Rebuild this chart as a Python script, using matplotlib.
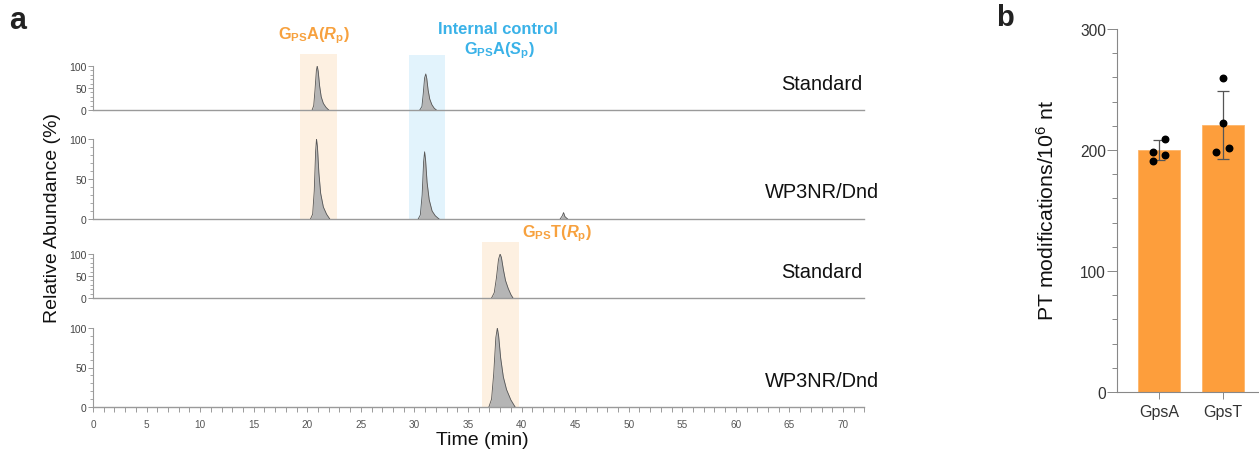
import matplotlib.pyplot as plt
from matplotlib.ticker import MultipleLocator

plt.rcParams['font.family'] = ['Liberation Sans', 'DejaVu Sans']
plt.rcParams['mathtext.fontset'] = 'custom'
plt.rcParams['mathtext.rm'] = 'Liberation Sans:bold'
plt.rcParams['mathtext.it'] = 'Liberation Sans:bold:italic'
plt.rcParams['mathtext.bf'] = 'Liberation Sans:bold'

# ---- panel a: chromatogram peaks (time in min, relative abundance in %) ----
# Standard, GpsA(Rp) + internal control GpsA(Sp)
std_a_rp_time = [20.45, 20.6, 20.72, 20.85, 20.93, 21.02, 21.15, 21.3, 21.5, 21.75, 22.0]
std_a_rp_int = [0, 10, 45, 90, 100, 88, 55, 30, 15, 6, 0]
std_a_sp_time = [30.5, 30.7, 30.82, 30.95, 31.06, 31.15, 31.28, 31.43, 31.63, 31.85, 32.05]
std_a_sp_int = [0, 8, 36, 73, 82, 72, 45, 25, 12, 4, 0]

# WP3NR/Dnd, GpsA(Rp) + internal control + small peak
wp_a_rp_time = [20.3, 20.5, 20.65, 20.78, 20.86, 20.95, 21.08, 21.25, 21.5, 21.8, 22.1]
wp_a_rp_int = [0, 6, 35, 85, 100, 90, 58, 32, 15, 6, 0]
wp_a_sp_time = [30.35, 30.55, 30.72, 30.86, 30.95, 31.04, 31.18, 31.38, 31.65, 31.95, 32.3]
wp_a_sp_int = [0, 5, 30, 72, 84, 74, 46, 24, 10, 4, 0]
wp_a_x_time = [43.6, 43.8, 43.92, 44.05, 44.3]
wp_a_x_int = [0, 4, 8, 3, 0]

# Standard, GpsT(Rp)
std_t_time = [37.2, 37.45, 37.65, 37.85, 38.0, 38.12, 38.3, 38.5, 38.75, 39.0, 39.2]
std_t_int = [0, 12, 45, 88, 100, 92, 65, 40, 22, 8, 0]

# WP3NR/Dnd, GpsT(Rp)
wp_t_time = [36.95, 37.2, 37.4, 37.6, 37.74, 37.86, 38.05, 38.3, 38.6, 39.0, 39.4]
wp_t_int = [0, 10, 42, 88, 100, 90, 62, 38, 22, 9, 0]

sample_names = ['Standard', 'WP3NR/Dnd', 'Standard', 'WP3NR/Dnd']
traces = [
    [(std_a_rp_time, std_a_rp_int), (std_a_sp_time, std_a_sp_int)],
    [(wp_a_rp_time, wp_a_rp_int), (wp_a_sp_time, wp_a_sp_int), (wp_a_x_time, wp_a_x_int)],
    [(std_t_time, std_t_int)],
    [(wp_t_time, wp_t_int)],
]

# ---- panel b: PT modifications per 10^6 nt ----
categories = ['GpsA', 'GpsT']
means = [200, 220.5]
sds = [8.5, 28]
reps_gpsa = [198, 209, 190.5, 195.5]
reps_gpst = [259.5, 222, 198.5, 202]

W, H = 1259, 460
fig = plt.figure(figsize=(W / 100, H / 100), dpi=100)


def fx(px):
    return px / W


def fy(py):
    return 1 - py / H


orange = '#f7a13e'
blue = '#3ab2e8'
line_gray = '#9a9a9a'
tick_col = '#444444'
txt = '#111111'

ax_l, ax_r = 93, 864.4
xmax = 72

# background axes for the highlight boxes
bg = fig.add_axes([fx(ax_l), 0, fx(ax_r - ax_l), 1])
bg.set_xlim(0, xmax)
bg.set_ylim(0, 1)
bg.axis('off')
bg.axvspan(19.3, 22.8, ymin=fy(220), ymax=fy(55), color='#fdf0e1', lw=0)
bg.axvspan(29.5, 32.9, ymin=fy(220), ymax=fy(56), color='#e2f3fc', lw=0)
bg.axvspan(36.3, 39.8, ymin=fy(408), ymax=fy(243), color='#fdf0e1', lw=0)

# panel geometry: (baseline px, top px)
rows = [(111, 67), (220, 140), (299, 255), (408, 329)]
label_y = [84, 193, 272, 382]

for i, (peaks, name, (b, tp)) in enumerate(zip(traces, sample_names, rows)):
    ax = fig.add_axes([fx(ax_l), fy(b), fx(ax_r - ax_l), (b - tp) / H])
    ax.patch.set_visible(False)
    for t, y in peaks:
        ax.fill_between(t, y, 0, color='#b5b5b5', lw=0, zorder=2)
        ax.plot(t, y, color='#555555', lw=0.6, zorder=3)
    ax.set_xlim(0, xmax)
    ax.set_ylim(0, 100)
    ax.spines['top'].set_visible(False)
    ax.spines['right'].set_visible(False)
    ax.spines['left'].set_color(line_gray)
    ax.spines['bottom'].set_color(line_gray)
    ax.spines['bottom'].set_linewidth(1.0)
    ax.spines['left'].set_linewidth(0.8)
    ax.set_yticks([0, 50, 100])
    ax.yaxis.set_minor_locator(MultipleLocator(10))
    ax.tick_params(axis='y', which='major', length=3.5, width=0.7, color=line_gray,
                   labelsize=7.5, labelcolor=tick_col, pad=1)
    ax.tick_params(axis='y', which='minor', length=2.2, width=0.6, color=line_gray)
    if i < 3:
        ax.tick_params(axis='x', which='both', bottom=False, labelbottom=False)
    else:
        ax.set_xticks(range(0, 71, 5))
        ax.xaxis.set_minor_locator(MultipleLocator(1))
        ax.tick_params(axis='x', which='both', length=3.5, width=0.7, color=line_gray,
                       labelsize=7.2, labelcolor='#555555', pad=5)
    fig.text(fx(ax_l + 68 / xmax * (ax_r - ax_l)), fy(label_y[i]), name,
             ha='center', va='center', fontsize=14.4, color=txt)

fig.text(fx(482), fy(441), 'Time (min)', ha='center', va='center', fontsize=14, color=txt)
fig.text(fx(52.5), fy(218), 'Relative Abundance (%)', rotation=90, ha='center', va='center',
         fontsize=14, color=txt)

fig.text(fx(314), fy(36), r'G$_{\mathrm{PS}}$A($R_{\mathrm{p}}$)', ha='center', va='center',
         fontsize=11.8, fontweight='bold', color=orange)
fig.text(fx(498), fy(30), 'Internal control', ha='center', va='center',
         fontsize=11.9, fontweight='bold', color=blue)
fig.text(fx(499), fy(51), r'G$_{\mathrm{PS}}$A($S_{\mathrm{p}}$)', ha='center', va='center',
         fontsize=11.8, fontweight='bold', color=blue)
fig.text(fx(557), fy(234), r'G$_{\mathrm{PS}}$T($R_{\mathrm{p}}$)', ha='center', va='center',
         fontsize=11.8, fontweight='bold', color=orange)

fig.text(fx(9), fy(21), 'a', ha='left', va='center', fontsize=22, fontweight='bold', color='#222222')
fig.text(fx(996), fy(18), 'b', ha='left', va='center', fontsize=21, fontweight='bold', color='#222222')

# ---- panel b ----
bx = fig.add_axes([fx(1117), fy(393), fx(1258 - 1117), (393 - 30) / H])
pos = [0, 1]
bx.bar(pos, means, width=0.66, color='#fd9e3c', edgecolor='#fdb56a', lw=0.6, zorder=1)
bx.errorbar(pos, means, yerr=sds, fmt='none', ecolor='#555555', elinewidth=0.9,
            capsize=4.5, capthick=0.9, zorder=2)
offs = [-0.1, 0.1, -0.1, 0.1]
bx.scatter([pos[0] + o for o in offs], reps_gpsa, s=22, color='black', zorder=3)
offs_t = [0, 0, -0.1, 0.1]
bx.scatter([pos[1] + o for o in offs_t], reps_gpst, s=22, color='black', zorder=3)
bx.set_xlim(-0.656, 1.55)
bx.set_ylim(0, 300)
bx.set_xticks(pos)
bx.set_xticklabels(categories)
bx.set_yticks([0, 100, 200, 300])
bx.yaxis.set_minor_locator(MultipleLocator(20))
for s in ['top', 'right']:
    bx.spines[s].set_visible(False)
for s in ['left', 'bottom']:
    bx.spines[s].set_color('#888888')
    bx.spines[s].set_linewidth(0.8)
bx.tick_params(axis='y', which='major', length=7, width=0.7, color='#888888',
               labelsize=11.2, labelcolor='#333333', pad=1)
bx.tick_params(axis='y', which='minor', length=3.5, width=0.7, color='#888888')
bx.tick_params(axis='x', length=5, width=0.7, color='#888888', labelsize=11.5,
               labelcolor='#333333', pad=4)
fig.text(fx(1047), fy(210), r'PT modifications/10$^{\mathregular{6}}$ nt', rotation=90,
         ha='center', va='center', fontsize=15.3, color=txt)

fig.savefig('out.png', dpi=100)
